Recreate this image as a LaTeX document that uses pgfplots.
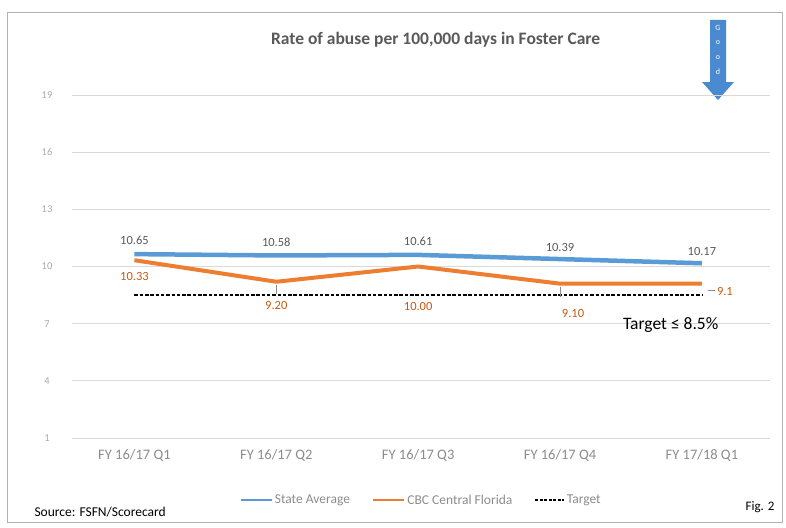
\documentclass[border=0pt]{standalone}
\usepackage{pgfplots}
\pgfplotsset{compat=1.18}
\usepackage{fontspec}
\setmainfont{Carlito}
\definecolor{sblue}{HTML}{5B9BD5}
\definecolor{sorange}{HTML}{ED7D31}
\definecolor{dorange}{HTML}{C55A11}
\definecolor{tgray}{HTML}{595959}
\definecolor{lgray}{HTML}{8C8C8C}
\definecolor{gridc}{HTML}{D9D9D9}
\definecolor{arrowblue}{HTML}{4A8AD0}
\begin{document}
\begin{tikzpicture}
\begin{scope}[x=1pt,y=1pt]
\path[use as bounding box] (0,0) rectangle (786,-527);
\draw[color=black!30, line width=1pt] (7,-13) rectangle (782,-522);
% Good arrow
\fill[arrowblue] (710,-20) -- (726,-20) -- (726,-82) -- (734,-82) -- (718,-100) -- (702,-82) -- (710,-82) -- cycle;
\foreach \ch/\yy in {G/28,o/43,o/58,d/72}{\node[text=white, font=\fontsize{8}{9}\selectfont] at (718,-\yy) {\ch};}
\node[font=\fontsize{13.5}{15}\selectfont, anchor=west] at (31,-512) {Source: FSFN/Scorecard};
\node[font=\fontsize{13}{15}\selectfont, anchor=east] at (778,-507) {Fig. 2};
\end{scope}
\begin{axis}[
  at={(72pt,-438pt)}, anchor=south west,
  width=698pt, height=343pt, scale only axis,
  xmin=-0.44, xmax=4.48,
  ymin=1, ymax=19,
  ytick={1,4,7,10,13,16,19},
  xtick={0,1,2,3,4},
  xticklabels={FY 16/17 Q1,FY 16/17 Q2,FY 16/17 Q3,FY 16/17 Q4,FY 17/18 Q1},
  axis line style={draw=none},
  major tick length=0pt,
  xmajorgrids=false, ymajorgrids=true, grid style={color=gridc, line width=0.8pt},
  /pgf/number format/assume math mode=true,
  yticklabel style={font=\fontsize{10.5}{12}\selectfont, text=lgray!75, anchor=center, xshift=-25pt},
  xticklabel style={font=\fontsize{14.5}{16}\selectfont, text=lgray, yshift=-8pt},
  title={Rate of abuse per 100,000 days in Foster Care},
  title style={font=\bfseries\fontsize{17.5}{20}\selectfont, text=tgray, at={(0.521,1)}, anchor=center, yshift=49pt},
  legend columns=3,
  legend style={draw=none, fill=none, at={(0.5,-0.181)}, anchor=center, font=\fontsize{13.5}{15}\selectfont, text=lgray,
     /tikz/every even column/.append style={column sep=20pt}},
  legend cell align=left,
  clip=false,
]
\addplot[sblue, line width=4.5pt, line join=round,
  legend image code/.code={\draw[sblue,line width=2.5pt] (0pt,0pt) -- (31pt,0pt);}] coordinates {(0,10.65) (1,10.58) (2,10.61) (3,10.39) (4,10.17)};
\addlegendentry{State Average}
\addplot[sorange, line width=4pt, line join=round,
  legend image code/.code={\draw[sorange,line width=2.5pt] (0pt,0pt) -- (31pt,0pt);}] coordinates {(0,10.33) (1,9.20) (2,10.00) (3,9.10) (4,9.10)};
\addlegendentry{CBC Central Florida}
\addplot[black, line width=1.6pt, dash pattern=on 3.5pt off 1.8pt,
  legend image code/.code={\draw[black,line width=1.3pt,dash pattern=on 3pt off 1.5pt] (0pt,0pt) -- (29pt,0pt);}] coordinates {(0,8.5) (1,8.5) (2,8.5) (3,8.5) (4,8.5)};
\addlegendentry{Target}
% data labels
\begin{scope}[every node/.style={font=\fontsize{12.5}{14}\selectfont}]
\node[text=tgray] at (axis cs:0,10.65) [yshift=14pt] {10.65};
\node[text=tgray] at (axis cs:1,10.58) [yshift=13pt] {10.58};
\node[text=tgray] at (axis cs:2,10.61) [yshift=14pt] {10.61};
\node[text=tgray] at (axis cs:3,10.39) [yshift=12pt] {10.39};
\node[text=tgray] at (axis cs:4,10.17) [yshift=12pt] {10.17};
\node[text=dorange] at (axis cs:0,10.33) [yshift=-16pt] {10.33};
\node[text=dorange] at (axis cs:1,9.20) [yshift=-24pt] {9.20};
\node[text=dorange] at (axis cs:2,10.00) [yshift=-40pt] {10.00};
\node[text=dorange] at (axis cs:3,9.10) [yshift=-30pt, xshift=13pt] {9.10};
\node[text=dorange] at (axis cs:4,9.10) [yshift=-8pt, xshift=23pt] {9.1};
\end{scope}
\draw[lgray, line width=0.6pt] (axis cs:4.04,8.73) -- (axis cs:4.09,8.73);
\draw[lgray, line width=0.6pt] (axis cs:1,9.04) -- (axis cs:1,8.57);
\draw[lgray, line width=0.6pt] (axis cs:3,8.94) -- (axis cs:3,8.42);
\node[font=\fontsize{17.5}{20}\selectfont, text=black] at (axis cs:3.78,6.95) {Target ≤ 8.5\%};
\end{axis}
\end{tikzpicture}
\end{document}
